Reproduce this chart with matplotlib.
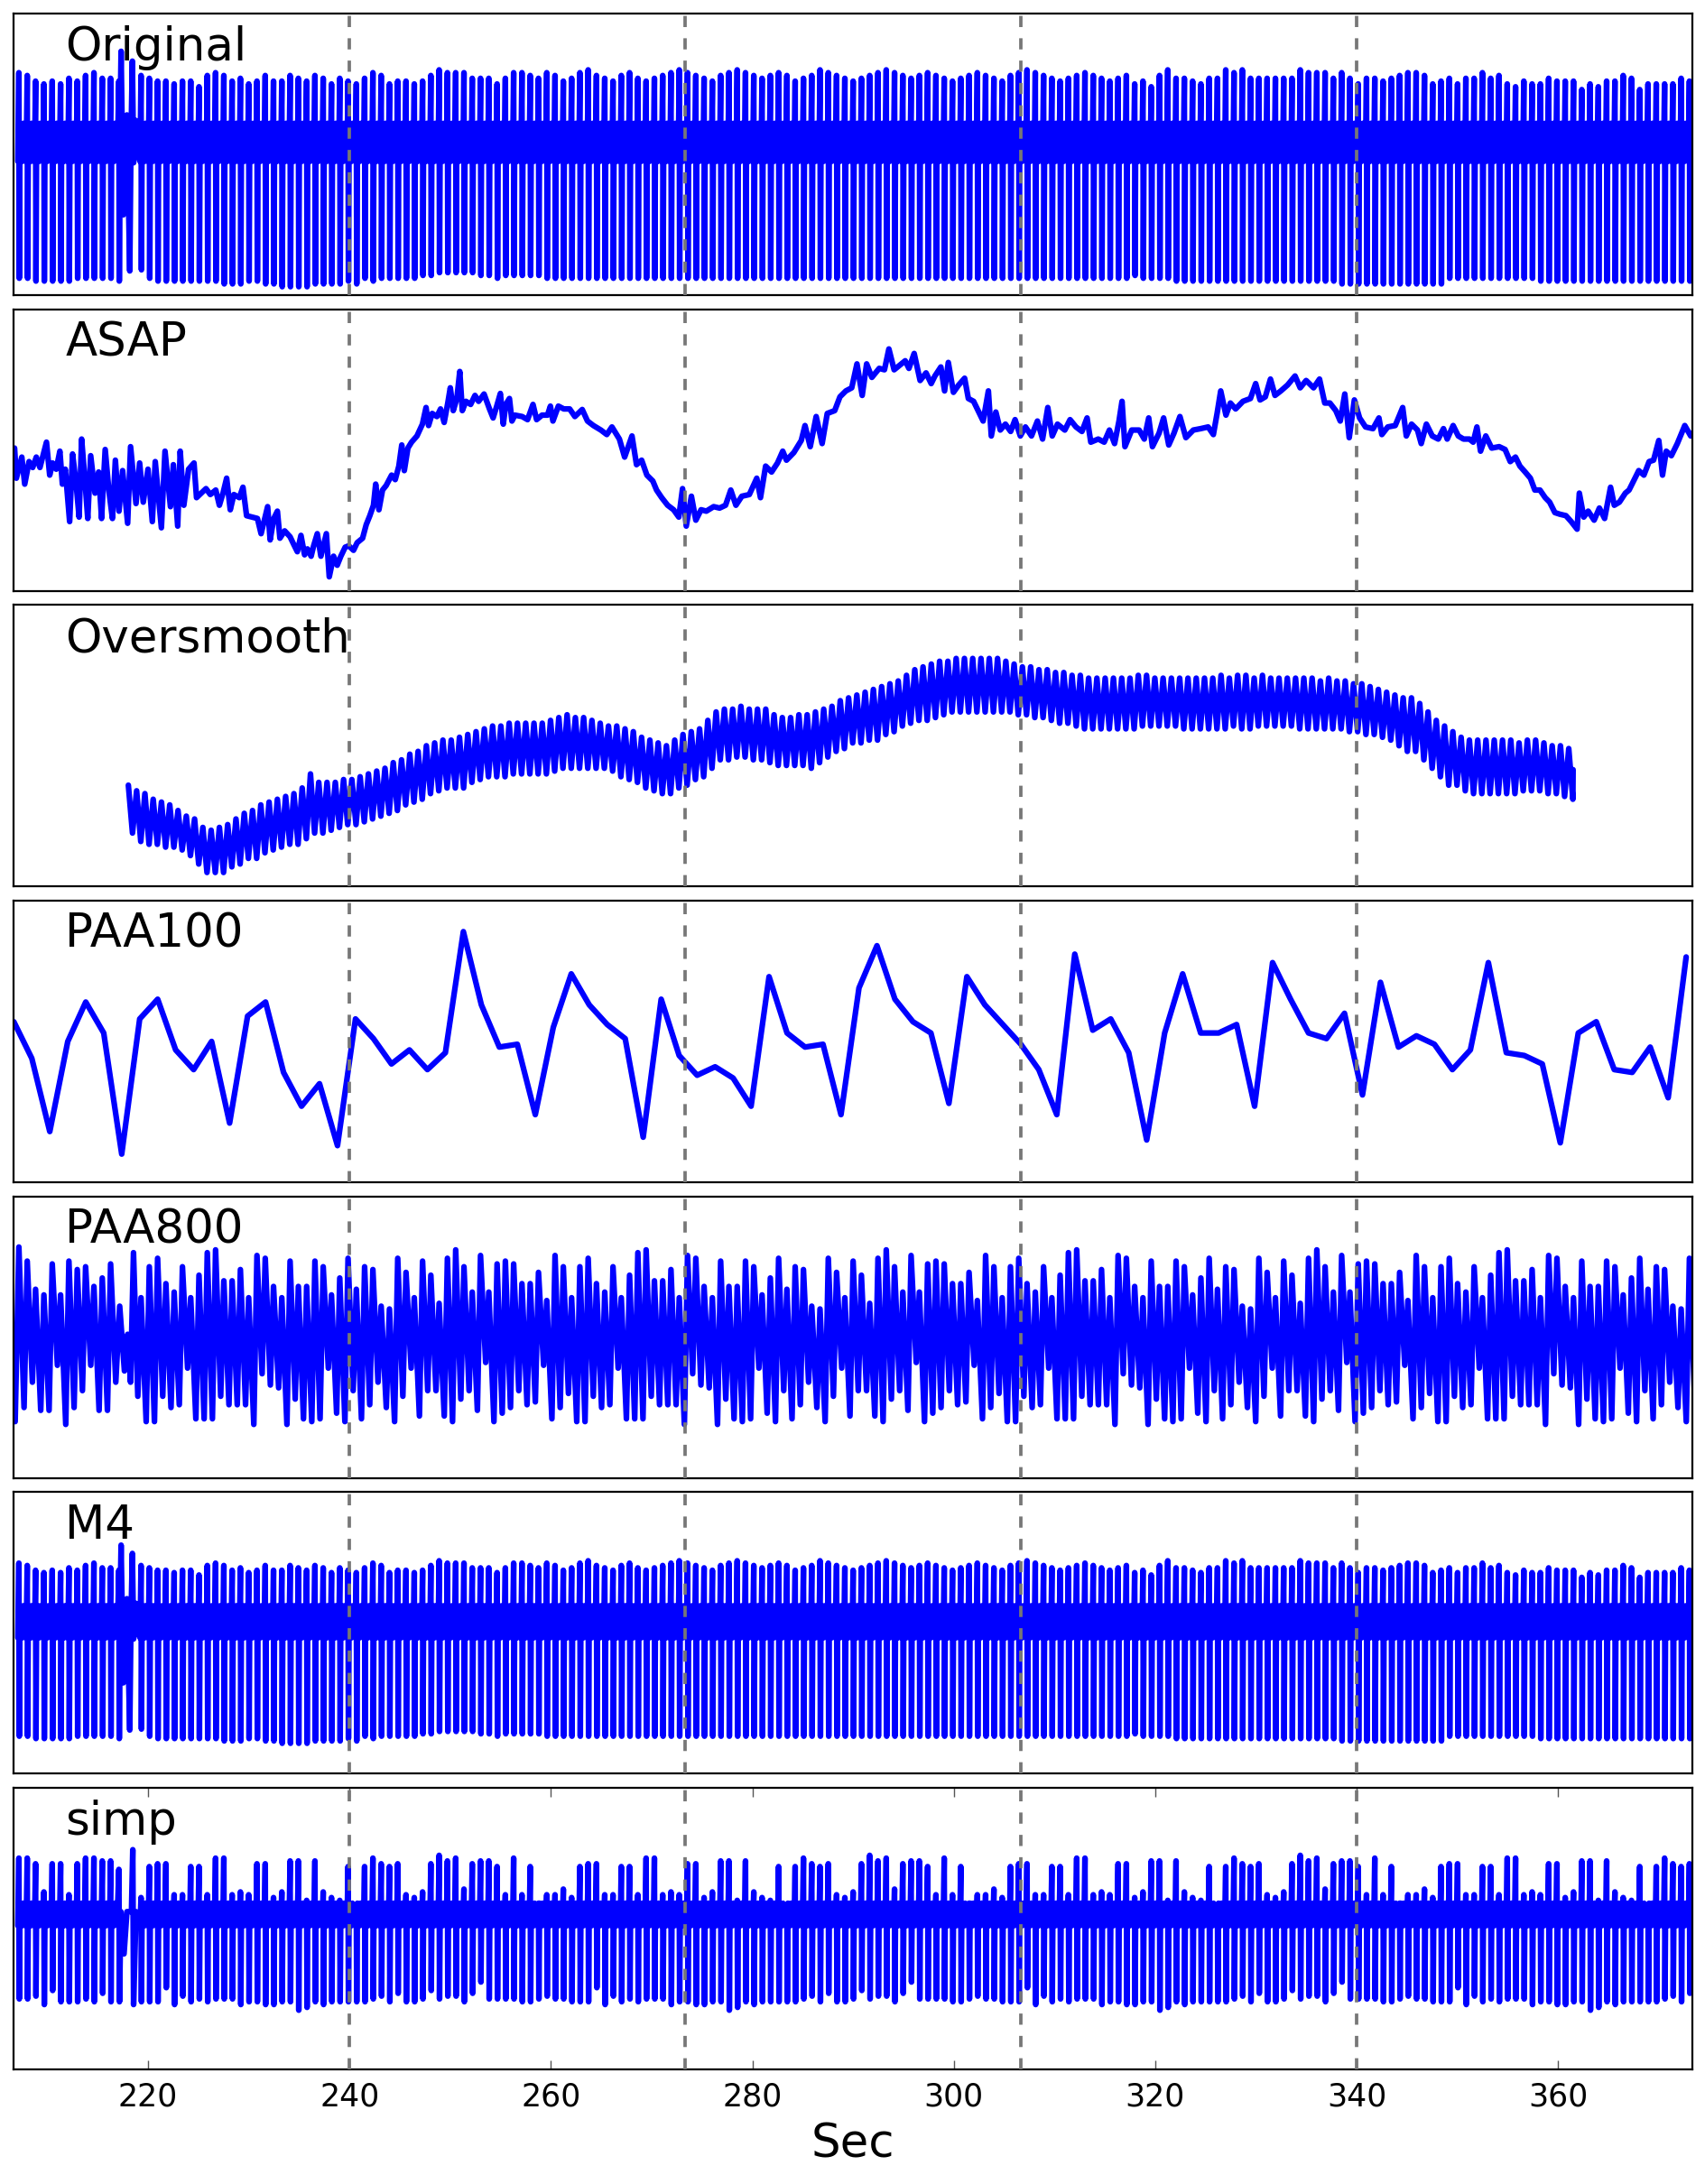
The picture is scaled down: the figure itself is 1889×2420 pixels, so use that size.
import numpy as np
import matplotlib.pyplot as plt

# shown time window (s) and the dashed markers
X_MIN, X_MAX = 206.667, 373.333
MARKERS = [240.0, 273.333, 306.667, 340.0]
TICKS = [220, 240, 260, 280, 300, 320, 340, 360]

# beat timing
PRE_T0, PRE_DT = 207.17, 0.828      # beats before the artefact
POST_T0, POST_DT = 219.3, 0.8222    # beats after it

# ---------------- Original (M4 is the same series, other y-range) -------------
ORIG_BAND = (61, 47.5)
ORIG_PRE_PEAK = [79, 78, 76, 75, 76, 75, 77, 76, 78, 79, 77, 77]
ORIG_PRE_TROUGH = [6, 6, 5, 5, 5, 5, 5, 6, 6, 6, 6, 6]
ORIG_ART_T = [216.95, 217.1, 217.14, 217.22, 217.32, 217.54, 217.9, 218.18, 218.3, 218.44, 218.56, 218.8, 219.0]
ORIG_ART_V = [48.5, 76, 5, 62, 86.6, 28.5, 64, 8.6, 55, 83.1, 47, 62, 50]
ORIG_POST_PEAK = (
    [78, 77, 76, 76, 75, 76, 76, 74, 78, 79, 78, 76, 77, 75, 76, 78, 76, 76, 78, 77, 76, 78, 77, 75, 77]
    + [76, 75, 77, 79, 78, 75, 76, 76, 75, 76, 78, 80, 79, 79, 79, 77, 77, 77, 75, 77, 79, 79]
    + [78, 77, 79, 78, 76, 77, 79, 80, 78, 77, 76, 78, 79, 77, 76, 77, 78, 79, 80, 79,
       78, 77, 76, 78, 79, 80, 79, 78, 77, 78, 79, 78, 76, 77, 78, 80, 79, 78, 77, 76,
       77, 78, 79, 80, 79, 78, 77, 78, 79, 78, 77, 76, 77, 78, 79, 78, 77, 76, 78, 79,
       80, 79, 78, 77, 76, 77, 78, 79, 78, 77, 76, 77, 78]
    + [75, 76, 74, 78, 80, 77, 77, 76, 75, 77, 77, 80, 79, 80, 77, 77, 77, 77, 77, 77, 80,
       79, 79, 79, 77, 79, 77, 75, 77, 77, 76, 77, 78, 79, 79, 78, 75, 76, 77, 75, 77,
       77, 79, 77, 78, 75, 74, 76, 75, 75, 77, 76, 76, 76, 73, 75, 74, 76, 76, 78, 77,
       73, 75, 75, 75, 75, 77, 76]
)
ORIG_POST_TROUGH = (
    [9, 6, 5, 5, 5, 5, 5, 5, 5, 5, 4, 4, 4, 5, 5, 4, 4, 3, 3, 3, 3, 4, 4, 4, 4]
    + [5, 4, 6, 5, 6, 6, 6, 6, 6, 7, 7, 8, 8, 8, 8, 8, 7, 7, 6, 7, 7, 7]
    + [7, 7, 6, 6, 6, 6, 6, 6, 6, 6, 6, 6, 6, 6, 6, 6, 6, 6, 6, 6, 6, 6, 6, 6, 6,
       6, 6, 6, 6, 6, 6, 6, 6, 6, 6, 6, 6, 6, 6, 6, 6, 6, 6, 6, 6, 6, 6, 6, 6, 6,
       6, 6, 6, 6, 6, 6, 6, 6, 6, 6, 6, 6, 6, 6, 6, 6, 6, 6, 6, 6, 6, 6, 6]
    + [7, 6, 6, 6, 6, 5, 5, 5, 5, 5, 5, 5, 5, 5, 5, 5, 5, 5, 5, 5, 5, 5, 5, 5, 5,
       4, 4, 4, 4, 4, 4, 4, 4, 4, 4, 4, 4, 4, 6, 6, 6, 6, 6, 6, 6, 6, 6, 6, 6, 5,
       5, 5, 5, 5, 5, 5, 5, 5, 5, 5, 5, 5, 5, 5, 5, 5, 5, 5]
)

# ---------------- simp ----------------
SIMP_BAND = (59, 51)
SIMP_PRE_PEAK = [75, 75, 73, 63, 73, 73, 62, 73, 75, 75, 74, 74]
SIMP_PRE_TROUGH = [25, 25, 26, 23, 28, 24, 24, 24, 25, 24, 27, 24]
SIMP_ART_T = [216.95, 217.1, 217.16, 217.3, 217.61, 217.9, 218.35, 218.48, 218.56, 218.8, 219.0]
SIMP_ART_V = [55, 71, 24, 56, 41, 56, 56, 78, 23, 56, 55]
SIMP_POST_PEAK = (
    [61, 72, 73, 73, 62, 62, 72, 72, 62, 75, 75, 62, 63, 62, 73, 73, 61, 63, 74, 74, 60, 74, 63, 61, 60]
    + [72, 58, 72, 75, 73, 72, 73, 62, 61, 63, 73, 76, 74, 75, 64, 73, 74, 74, 72, 62, 75, 62, 72, 59, 62, 62, 64]
)
SIMP_POST_TROUGH = (
    [24, 24, 24, 29, 23, 26, 24, 25, 24, 25, 25, 25, 23, 24, 24, 23, 23, 24, 24, 21, 22, 24, 23, 24, 24]
    + [24, 24, 24, 25, 26, 24, 27, 24, 24, 25, 28, 25, 26, 26, 24, 27, 31, 25, 25, 25, 25, 24, 24, 25, 26, 25, 25]
)

# ---------------- PAA800 (one high / one low vertex per beat) ----------------
PAA800_PRE_HI = [82, 77, 67, 65, 76, 65, 77, 74, 75, 68, 71, 76]
PAA800_PRE_LO = [25, 34, 24, 24, 40, 19, 25, 31, 40, 24, 24, 34]
PAA800_ART_T = [217.18, 217.65, 217.97, 218.26, 218.55, 218.98]
PAA800_ART_V = [61, 38, 51, 34, 80, 29]
PAA800_POST_HI = [64, 75, 78, 69, 66, 75, 64, 72, 80, 81, 70, 70, 74, 64, 79, 78, 68, 64, 77, 68,
                  68, 77, 75, 65, 71, 78, 67, 75, 74, 61, 60, 78, 73, 64, 77, 72, 62, 78, 81, 75,
                  66, 79, 66, 76, 77, 76, 69, 69, 73, 63, 79, 75]
PAA800_POST_LO = [20, 20, 29, 25, 26, 39, 21, 21, 21, 29, 26, 26, 26, 19, 37, 33, 32, 19, 28, 21,
                  20, 21, 39, 23, 20, 31, 21, 26, 34, 25, 20, 29, 39, 22, 31, 31, 22, 20, 28, 31,
                  24, 41, 20, 23, 25, 31, 26, 27, 40, 21, 25, 30]

# ---------------- Oversmooth (one high / one low per beat) ----------------
OVS_T0, OVS_DT = 218.04, 0.822
OVS_HI = [36, 34, 33, 31, 30, 29, 27, 25, 24, 21, 20, 21, 22, 24, 26, 27, 29, 30, 31, 32,
          33, 35, 40, 37, 37, 37, 38, 38, 39, 40, 41, 42, 44, 45, 47, 48, 50, 51, 52, 52,
          53, 54, 55, 56, 57, 57, 58, 58, 58, 58, 58, 59, 60, 61, 60, 60, 59, 58, 57, 57,
          56, 55, 53, 52, 51, 50, 52, 54, 55, 56, 59, 62, 63, 63, 64, 63, 63, 63, 61, 60,
          60, 61, 61, 62, 63, 64, 66, 67, 68, 69, 70, 71, 72, 73, 75, 77, 78, 79, 80, 80,
          81, 81, 81, 81, 81, 81, 80, 79, 78, 78, 77, 77, 76, 76, 75, 75, 74, 74, 74, 74,
          74, 74, 75, 75, 74, 74, 74, 74, 74, 74, 74, 74, 75, 74, 75, 75, 74, 75, 74, 74,
          74, 74, 74, 74, 73, 74, 73, 73, 72, 72, 71, 70, 69, 68, 67, 67, 65, 62, 59, 57,
          55, 53, 52, 52, 52, 52, 52, 52, 51, 52, 52, 51, 50, 50, 49]
OVS_LO = [19, 16, 15, 15, 14, 14, 13, 11, 8, 5, 5, 5, 7, 8, 10, 10, 12, 13, 14, 15,
          15, 17, 19, 19, 20, 21, 22, 22, 23, 24, 25, 26, 27, 29, 30, 31, 33, 34, 35, 35,
          35, 37, 38, 39, 39, 39, 40, 40, 40, 40, 40, 41, 42, 42, 42, 42, 42, 42, 41, 39,
          38, 37, 35, 34, 33, 33, 35, 36, 38, 39, 42, 45, 45, 46, 46, 45, 45, 44, 43, 43,
          43, 43, 42, 44, 46, 48, 49, 51, 51, 52, 52, 54, 55, 57, 58, 59, 59, 60, 61, 62,
          62, 62, 62, 62, 62, 62, 62, 61, 61, 60, 60, 59, 58, 58, 57, 56, 56, 56, 56, 56,
          56, 56, 57, 57, 57, 57, 57, 56, 56, 56, 56, 56, 56, 57, 56, 56, 57, 57, 57, 57,
          57, 56, 56, 56, 56, 56, 56, 55, 55, 54, 54, 53, 52, 50, 48, 48, 45, 42, 39, 36,
          36, 34, 33, 33, 33, 33, 33, 33, 34, 34, 34, 33, 33, 32, 31]

# ---------------- PAA100 ----------------
PAA100_T0, PAA100_DT = 206.667, 1.7856
PAA100 = [57, 44, 18, 50, 64, 53, 10, 58, 65, 47, 40, 50, 21, 59, 64, 39, 27, 35, 13, 58,
          51, 42, 47, 40, 46, 89, 63, 48, 49, 24, 55, 74, 63, 56, 51, 16, 65, 45, 38, 41,
          37, 27, 73, 53, 48, 49, 24, 69, 84, 65, 57, 53, 28, 73, 63, 56, 49, 40, 24, 81,
          54, 58, 46, 15, 53, 74, 53, 53, 56, 27, 78, 65, 53, 51, 60, 31, 71, 48, 52, 49,
          40, 47, 78, 46, 45, 42, 14, 53, 57, 40, 39, 48, 30, 80]

# ---------------- ASAP ----------------
ASAP_T = [206.74, 206.92, 207.46, 207.75, 208.18, 208.54, 208.9, 209.26, 209.91, 210.23, 210.52, 210.88,
          211.24, 211.49, 211.78, 212.21, 212.5, 212.86, 213.15, 213.4, 213.76, 214.01, 214.3, 214.73,
          215.09, 215.38, 215.74, 216.1, 216.46, 216.75, 217.11, 217.47, 217.97, 218.26, 218.8, 219.16,
          219.52, 219.99, 220.42, 220.71, 221.32, 221.68, 222.22, 222.51, 222.94, 223.19, 223.55, 224.02,
          224.56, 224.81, 225.28, 225.75, 226.18, 226.72, 227.08, 227.44, 227.8, 228.16, 228.52, 229.06,
          229.42, 229.78, 230.32, 230.86, 231.22, 231.87, 232.12, 232.48, 232.84, 233.09, 233.56, 234.1,
          234.46, 234.82, 235.18, 235.54, 235.83, 236.19, 236.44, 236.8, 237.16, 237.7, 237.99, 238.42,
          238.78, 239.14, 239.57, 239.93, 240.4, 240.76, 241.3, 241.66, 242.02, 242.38, 242.6, 242.92,
          243.28, 243.64, 244.18, 244.54, 244.9, 245.19, 245.44, 245.8, 246.16, 246.7, 247.24, 247.6,
          247.85, 248.21, 248.68, 249.04, 249.4, 249.76, 250.01, 250.3, 250.66, 250.95, 251.2, 251.56,
          252.03, 252.46, 252.82, 253.36, 253.9, 254.26, 254.62, 254.98, 255.27, 255.52, 255.88, 256.13,
          256.42, 257.14, 257.68, 258.22, 258.58, 259.12, 259.66, 259.95, 260.2, 260.74, 261.28, 261.86,
          262.38, 263.11, 263.63, 264.22, 264.96, 265.55, 266.06, 266.8, 267.32, 268.05, 268.5, 269.01,
          269.53, 270.12, 270.49, 271.0, 271.59, 272.18, 272.7, 273.07, 273.44, 273.95, 274.39, 274.91,
          275.43, 276.16, 276.75, 277.34, 277.86, 278.37, 278.96, 279.7, 280.44, 280.81, 281.32, 281.91,
          282.5, 283.02, 283.39, 284.12, 284.86, 285.23, 285.75, 286.34, 286.93, 287.44, 288.18, 288.7,
          289.29, 289.87, 290.39, 290.91, 291.35, 291.87, 292.6, 293.12, 293.56, 294.08, 294.59, 295.18,
          295.55, 296.07, 296.66, 297.25, 297.76, 298.13, 298.72, 299.09, 299.46, 299.97, 300.49, 301.08,
          301.45, 301.97, 302.56, 302.92, 303.44, 303.73, 304.18, 304.62, 305.13, 305.65, 306.09, 306.61,
          307.12, 307.72, 308.31, 308.82, 309.34, 309.78, 310.3, 311.03, 311.55, 312.14, 312.73, 313.24,
          313.61, 314.35, 314.94, 315.46, 315.97, 316.41, 316.71, 317.0, 317.67, 318.41, 318.92, 319.36,
          319.73, 320.39, 320.84, 321.35, 321.87, 322.46, 323.05, 323.79, 324.52, 325.26, 325.78, 326.15,
          326.51, 327.03, 327.47, 327.99, 328.72, 329.46, 329.98, 330.42, 330.94, 331.45, 331.9, 332.48,
          333.15, 333.89, 334.4, 334.99, 335.73, 336.32, 336.84, 337.35, 337.94, 338.38, 338.83, 339.27,
          339.78, 340.3, 340.89, 341.63, 342.22, 342.51, 343.1, 343.84, 344.58, 344.94, 345.46, 346.05,
          346.42, 346.93, 347.52, 348.11, 348.63, 349.0, 349.59, 350.1, 350.62, 351.21, 351.58, 351.95,
          352.31, 352.83, 353.42, 354.16, 354.75, 355.26, 355.78, 356.22, 356.74, 357.26, 357.7, 358.21,
          358.73, 359.17, 359.69, 360.2, 360.79, 361.31, 361.9, 362.12, 362.56, 363.0, 363.59, 364.11,
          364.63, 365.22, 365.59, 366.1, 366.69, 367.06, 367.57, 368.02, 368.53, 369.05, 369.49, 370.01,
          370.38, 370.75, 371.26, 371.85, 372.59, 373.18, 373.33]
ASAP_V = [50.7, 40.0, 47.5, 37.9, 45.9, 43.8, 47.5, 43.8, 52.8, 41.1, 45.4, 43.2,
          49.6, 37.9, 43.2, 24.6, 48.6, 37.9, 26.2, 53.9, 37.9, 25.7, 48.0, 34.7,
          42.2, 25.7, 50.2, 35.8, 25.7, 46.4, 28.3, 42.7, 24.0, 51.2, 31.0, 45.4,
          31.5, 43.2, 24.6, 45.9, 22.4, 49.6, 29.9, 44.8, 23.0, 49.6, 30.4, 43.2,
          45.4, 33.1, 34.7, 36.3, 34.2, 35.8, 30.4, 34.7, 40.0, 28.8, 34.2, 33.1,
          36.8, 26.7, 26.2, 25.7, 20.3, 29.9, 18.1, 25.7, 28.3, 18.7, 21.3, 19.2,
          16.5, 13.9, 19.7, 12.8, 14.9, 12.3, 16.0, 20.3, 12.3, 20.3, 5.0, 12.3,
          9.1, 12.3, 15.5, 16.0, 14.4, 17.1, 18.7, 23.5, 26.7, 30.4, 37.9, 28.8,
          35.8, 37.4, 41.1, 39.5, 44.3, 51.8, 42.7, 50.7, 52.8, 55.0, 59.2, 65.1,
          58.7, 63.0, 61.9, 64.6, 59.8, 66.7, 72.1, 64.0, 68.3, 77.9, 64.0, 67.3,
          66.2, 69.4, 67.3, 69.9, 64.6, 61.4, 65.6, 70.1, 59.2, 66.2, 68.3, 60.3,
          62.4, 61.9, 60.8, 66.2, 60.8, 62.4, 62.4, 65.6, 60.3, 65.6, 64.6, 64.6,
          61.9, 64.4, 60.3, 58.7, 57.1, 55.5, 58.2, 53.9, 47.5, 55.0, 44.8, 46.4,
          41.1, 39.0, 35.8, 33.1, 30.4, 28.8, 26.2, 36.3, 23.0, 33.6, 25.1, 28.8,
          28.3, 29.9, 29.4, 30.4, 35.8, 30.4, 33.6, 34.2, 40.0, 33.1, 44.3, 42.2,
          45.4, 49.6, 46.4, 49.1, 53.4, 58.7, 51.2, 61.9, 52.3, 63.0, 64.0, 68.9,
          71.0, 72.1, 80.6, 69.4, 80.6, 75.8, 79.0, 78.5, 85.9, 78.5, 80.0, 81.7,
          79.0, 84.3, 74.7, 77.4, 73.6, 76.3, 79.5, 71.0, 81.1, 70.5, 73.1, 75.5,
          68.3, 67.3, 63.0, 60.3, 71.0, 55.0, 63.5, 57.1, 59.2, 56.6, 60.8, 55.0,
          58.2, 55.0, 60.3, 53.9, 65.1, 55.0, 59.2, 57.1, 60.8, 58.2, 56.6, 61.4,
          52.8, 53.9, 52.8, 57.1, 52.3, 60.3, 67.3, 51.2, 57.1, 57.1, 53.9, 61.4,
          51.2, 56.0, 61.4, 51.8, 56.0, 61.9, 54.4, 57.1, 57.6, 58.2, 55.5, 63.0,
          71.0, 62.4, 66.7, 64.6, 67.3, 68.3, 73.6, 67.8, 68.9, 75.2, 69.4, 71.0,
          73.1, 76.3, 72.1, 74.7, 72.1, 75.2, 66.7, 66.7, 64.0, 60.3, 69.9, 54.4,
          67.8, 61.4, 58.2, 57.6, 61.4, 55.5, 58.2, 58.7, 65.1, 55.0, 59.2, 57.1,
          52.3, 59.2, 55.0, 53.9, 57.6, 53.9, 58.7, 55.0, 53.9, 53.9, 52.8, 58.2,
          49.6, 55.0, 50.7, 51.2, 50.2, 45.9, 47.5, 44.3, 42.2, 40.0, 35.8, 35.8,
          33.1, 31.5, 27.8, 27.2, 26.7, 24.6, 21.9, 34.7, 26.2, 28.3, 25.1, 29.4,
          25.7, 36.8, 30.4, 31.5, 34.7, 35.8, 39.5, 42.7, 41.1, 45.9, 46.4, 53.4,
          41.1, 49.6, 48.0, 52.3, 58.7, 55.0, 56.0]


def beat_trace(times, peaks, troughs, band, period):
    """One up/down spike per beat plus a wiggle through the band between beats."""
    hi, lo = band
    off = np.array([-0.12, 0.0, 0.05, 0.13, 0.42, 0.52]) * period
    xs, ys = [], []
    for t, pk, tr in zip(times, peaks, troughs):
        xs.extend(t + off)
        ys.extend([lo, pk, tr, hi, lo, hi])
    return xs, ys


def zigzag(times, highs, lows, period, lo_frac):
    xs, ys = [], []
    for t, h, l in zip(times, highs, lows):
        xs.extend([t, t + lo_frac * period])
        ys.extend([h, l])
    return xs, ys


def beat_times(t0, dt, n):
    return t0 + dt * np.arange(n)


def beat_series(pre_pk, pre_tr, art_t, art_v, post_pk, post_tr, band):
    x1, y1 = beat_trace(beat_times(PRE_T0, PRE_DT, len(pre_pk)), pre_pk, pre_tr, band, PRE_DT)
    x2, y2 = beat_trace(beat_times(POST_T0, POST_DT, len(post_pk)), post_pk, post_tr, band, POST_DT)
    return x1 + list(art_t) + x2, y1 + list(art_v) + y2


orig_x, orig_y = beat_series(ORIG_PRE_PEAK, ORIG_PRE_TROUGH, ORIG_ART_T, ORIG_ART_V,
                             ORIG_POST_PEAK, ORIG_POST_TROUGH, ORIG_BAND)

# simp: tail not read beat by beat, the read part is reused
simp_pk = (SIMP_POST_PEAK * 4)[:188]
simp_tr = (SIMP_POST_TROUGH * 4)[:188]
simp_x, simp_y = beat_series(SIMP_PRE_PEAK, SIMP_PRE_TROUGH, SIMP_ART_T, SIMP_ART_V,
                             simp_pk, simp_tr, SIMP_BAND)

p8_hi = (PAA800_POST_HI * 4)[:188]
p8_lo = (PAA800_POST_LO * 4)[:188]
a1, b1 = zigzag(beat_times(PRE_T0, PRE_DT, 12), PAA800_PRE_HI, PAA800_PRE_LO, PRE_DT, 0.62)
a2, b2 = zigzag(beat_times(POST_T0, POST_DT, len(p8_hi)), p8_hi, p8_lo, POST_DT, 0.62)
p8_x = [206.8] + a1 + PAA800_ART_T + a2
p8_y = [20] + b1 + PAA800_ART_V + b2

ovs_x, ovs_y = zigzag(beat_times(OVS_T0, OVS_DT, len(OVS_HI)), OVS_HI, OVS_LO, OVS_DT, 0.5)
ovs_x.append(361.5)
ovs_y.append(41.5)

p100_x = beat_times(PAA100_T0, PAA100_DT, len(PAA100))

panels = [
    ("Original", orig_x, orig_y, (0, 100)),
    ("ASAP", ASAP_T, ASAP_V, (0, 100)),
    ("Oversmooth", ovs_x, ovs_y, (0, 100)),
    ("PAA100", p100_x, PAA100, (0, 100)),
    ("PAA800", p8_x, p8_y, (0, 100)),
    ("M4", orig_x, orig_y, (-9.8, 109.0)),
    ("simp", simp_x, simp_y, (0, 100)),
]

fig, axes = plt.subplots(7, 1, figsize=(18.9, 24.2), dpi=100, sharex=True)
fig.subplots_adjust(left=0.0081, right=0.992, top=0.9938, bottom=0.0525, hspace=0.05)

for ax, (name, xs, ys, ylim) in zip(axes, panels):
    ax.plot(xs, ys, color="#0000ff", lw=4.5, solid_joinstyle="round",
            solid_capstyle="round", zorder=2)
    for m in MARKERS:
        ax.axvline(m, color="#777777", lw=2.7, ls=(0, (3.3, 3.3)), zorder=3)
    ax.set_xlim(X_MIN, X_MAX)
    ax.set_ylim(*ylim)
    ax.set_yticks([])
    ax.text(0.0306, 0.834, name, transform=ax.transAxes, fontsize=37, va="baseline")
    for s in ax.spines.values():
        s.set_linewidth(1.6)
    ax.tick_params(axis="x", which="both", bottom=False, top=False, labelbottom=False)

bot = axes[-1]
bot.set_xticks(TICKS)
bot.tick_params(axis="x", bottom=True, top=True, labelbottom=True, direction="in",
                length=7, width=1, color="#555555", labelsize=25, pad=10)
bot.set_xlabel("Sec", fontsize=37, labelpad=8)

fig.savefig("out.png", dpi=100)
